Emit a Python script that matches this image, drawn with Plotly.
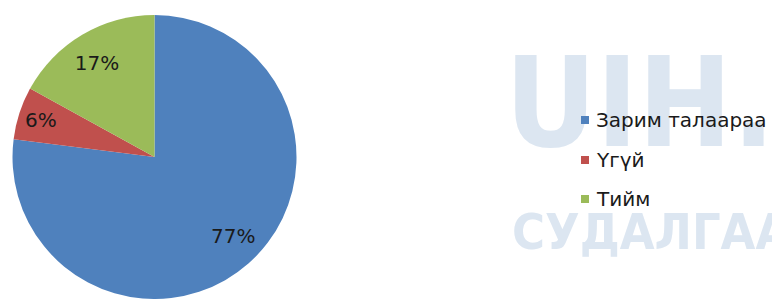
import plotly.graph_objects as go

# Data
categories = ["Зарим талаараа", "Үгүй", "Тийм"]
values = [77, 6, 17]
colors = ["#4F81BD", "#C0504D", "#9BBB59"]
watermark_lines = ["UIH.M", "СУДАЛГААН"]

# page body has an 8px margin, so the figure is 772x291 inside a 780x299 window
OFF = 8
W, H = 780 - OFF, 299 - OFF

NBSP = "\u00a0"
pct_text = [f"{v}%" for v in values]
# nudge labels to where the reference places them
pct_text[0] = NBSP + "<br>" + NBSP + "<br>" + NBSP * 10 + pct_text[0]
pct_text[2] = pct_text[2] + NBSP * 3 + "<br>" + NBSP

cx, cy, r = 154.5 - OFF, 157 - OFF, 142

fig = go.Figure()
fig.add_trace(go.Pie(
    labels=categories,
    values=values,
    text=pct_text,
    sort=False,
    direction="clockwise",
    rotation=0,
    marker=dict(colors=colors, line=dict(width=0)),
    textinfo="text",
    textposition="inside",
    insidetextorientation="horizontal",
    textfont=dict(family="DejaVu Sans, sans-serif", size=20, color="#1a1a1a"),
    domain=dict(x=[(cx - r) / W, (cx + r) / W], y=[(H - (cy + r)) / H, (H - (cy - r)) / H]),
    showlegend=False,
    hoverinfo="label+percent",
))


def px(x):
    return (x - OFF) / W


def py(y):
    return 1 - (y - OFF) / H


annotations = []
wm_color = "#DCE6F1"
annotations.append(dict(
    text="<b>" + watermark_lines[0] + "</b>", x=px(503), y=py(103), xref="paper", yref="paper",
    xanchor="left", yanchor="middle", showarrow=False,
    font=dict(family="DejaVu Sans Condensed, sans-serif", size=125, color=wm_color),
))
annotations.append(dict(
    text="<b>" + watermark_lines[1] + "</b>", x=px(510), y=py(232), xref="paper", yref="paper",
    xanchor="left", yanchor="middle", showarrow=False,
    font=dict(family="DejaVu Sans Condensed, sans-serif", size=50, color=wm_color),
))

leg_y0, leg_dy = 120, 39.5
for i, (cat, col) in enumerate(zip(categories, colors)):
    yy = leg_y0 + i * leg_dy
    annotations.append(dict(
        text="", x=px(581), y=py(yy), xref="paper", yref="paper",
        xanchor="left", yanchor="middle", showarrow=False,
        width=8, height=8, bgcolor=col, borderpad=0, borderwidth=0,
    ))
    annotations.append(dict(
        text=cat, x=px(594), y=py(yy), xref="paper", yref="paper",
        xanchor="left", yanchor="middle", showarrow=False,
        font=dict(family="DejaVu Sans, sans-serif", size=20, color="#1a1a1a"),
    ))

fig.update_layout(
    width=W, height=H,
    margin=dict(l=0, r=0, t=0, b=0),
    paper_bgcolor="white",
    plot_bgcolor="white",
    annotations=annotations,
)

fig.write_html("out.html")
